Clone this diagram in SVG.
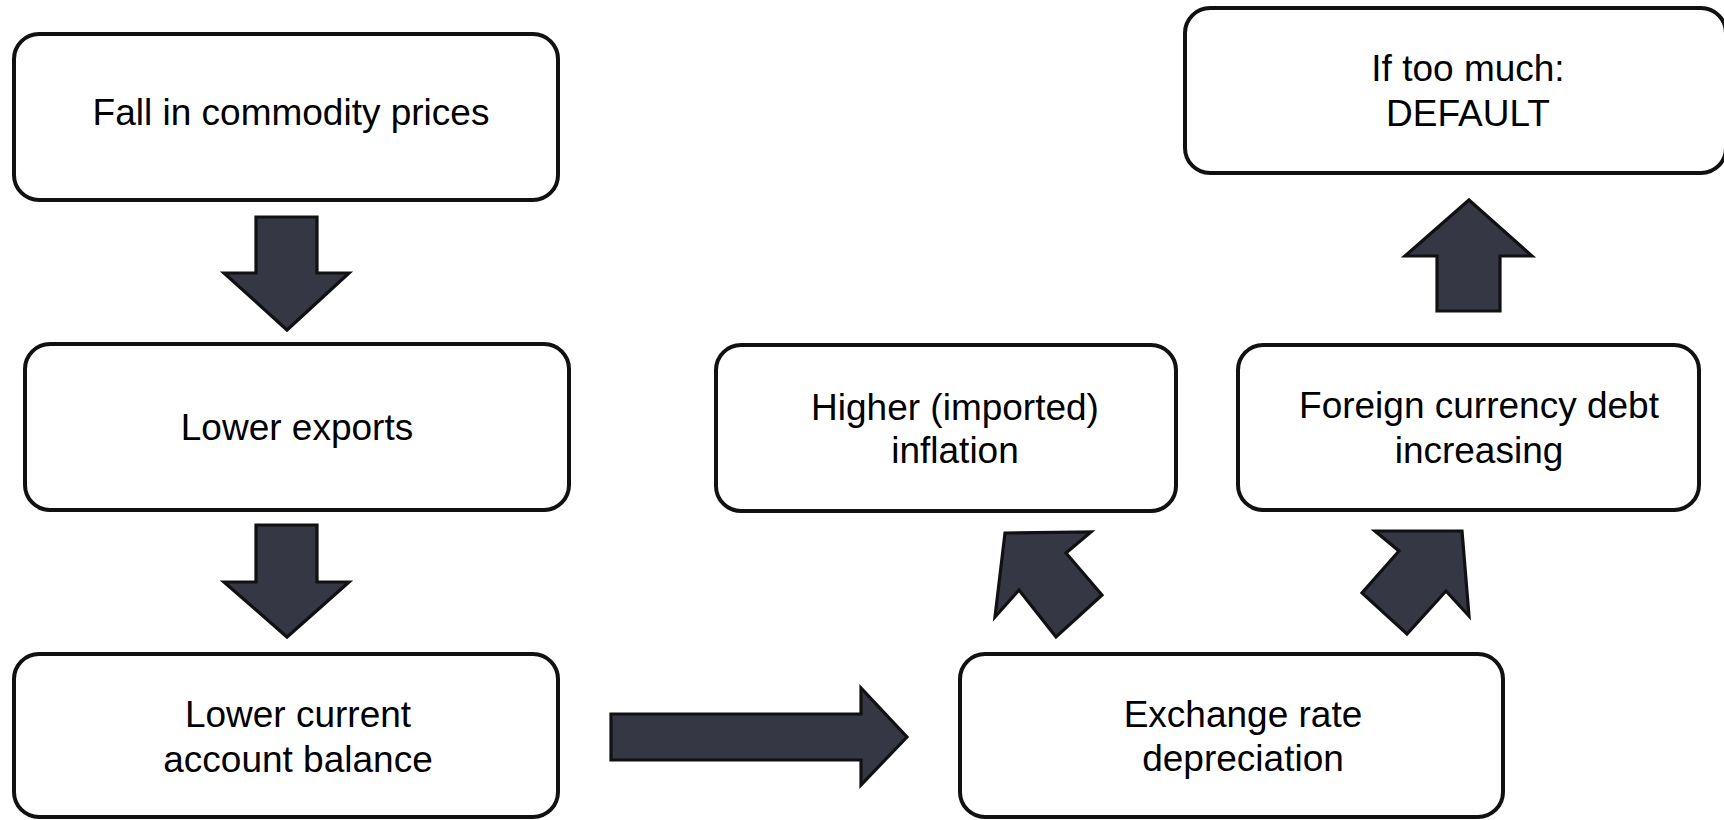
<svg xmlns="http://www.w3.org/2000/svg" width="1724" height="820" viewBox="0 0 1724 820">
<style>
.box{fill:#fff;stroke:#111;stroke-width:4}
.arr{fill:#363745;stroke:#111;stroke-width:3.2;stroke-linejoin:miter}
.t{font-family:"Liberation Sans",Arial,sans-serif;font-size:37px;fill:#000;text-anchor:middle}
</style>
<rect width="1724" height="820" fill="#fff"/>
<g id="connectors">
<polygon class="arr" points="256,217 317,217 317,273 349,273 287,330 224,273 256,273"/>
<polygon class="arr" points="256,525 317,525 317,582 349,582 287,637 224,582 256,582"/>
<polygon class="arr" points="611,714 861,714 861,688 907,737 861,785 861,760 611,760"/>
<polygon class="arr" points="1005,533 1091,532 1066,553 1102,595 1056,637 1019,590 995,617"/>
<polygon class="arr" points="1462,531 1469,616 1446,591 1407,634 1362,593 1399,551 1375,531"/>
<polygon class="arr" points="1469,200 1532,256 1500,256 1500,311 1437,311 1437,256 1405,256"/>
</g>
<g id="fall">
<rect class="box" x="14" y="34" width="544" height="166" rx="25"/>
<text class="t" x="291" y="125">Fall in commodity prices</text>
</g>
<g id="exports">
<rect class="box" x="25" y="344" width="544" height="166" rx="25"/>
<text class="t" x="297" y="440">Lower exports</text>
</g>
<g id="current">
<rect class="box" x="14" y="654" width="544" height="163" rx="25"/>
<text class="t" x="298" y="727">Lower current</text>
<text class="t" x="298" y="772">account balance</text>
</g>
<g id="exchange">
<rect class="box" x="960" y="654" width="543" height="163" rx="25"/>
<text class="t" x="1243" y="727">Exchange rate</text>
<text class="t" x="1243" y="771">depreciation</text>
</g>
<g id="inflation">
<rect class="box" x="716" y="345" width="460" height="166" rx="25"/>
<text class="t" x="955" y="420">Higher (imported)</text>
<text class="t" x="955" y="463">inflation</text>
</g>
<g id="debt">
<rect class="box" x="1238" y="345" width="461" height="165" rx="25"/>
<text class="t" x="1479" y="418">Foreign currency debt</text>
<text class="t" x="1479" y="463">increasing</text>
</g>
<g id="default">
<rect class="box" x="1185" y="8" width="541" height="165" rx="25"/>
<text class="t" x="1468" y="81">If too much:</text>
<text class="t" x="1468" y="126">DEFAULT</text>
</g>
</svg>
